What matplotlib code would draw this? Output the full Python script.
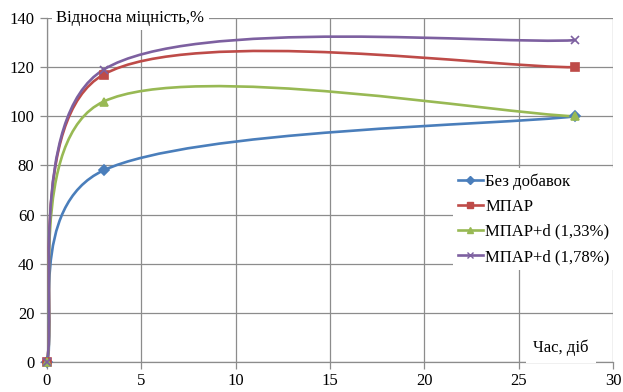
import matplotlib.pyplot as plt
from matplotlib.lines import Line2D
from matplotlib.patches import PathPatch
from matplotlib.path import Path

plt.rcParams["font.family"] = ["Liberation Serif", "DejaVu Serif"]

days = [0, 3, 28]
bez_dobavok = [0, 78, 100]
mpar = [0, 117, 120]
mpar_d133 = [0, 106, 100]
mpar_d178 = [0, 119, 131]

labels = ["Без добавок", "МПАР", "МПАР+d (1,33%)", "МПАР+d (1,78%)"]
colors = ["#4A7EBB", "#BE4B48", "#98B954", "#7D60A0"]
markers = ["D", "s", "^", "x"]
msizes = [5, 6, 6, 6]


def smooth_path(xs, ys, short_f=0.145):
    # Excel-like smoothed line: Catmull-Rom as cubic Bezier segments,
    # with a softer tangent next to a much shorter segment
    pts = list(zip(xs, ys))
    n = len(pts)
    verts = [pts[0]]
    codes = [Path.MOVETO]
    for i in range(n - 1):
        p0 = pts[max(i - 1, 0)]
        p1 = pts[i]
        p2 = pts[i + 1]
        p3 = pts[min(i + 2, n - 1)]
        f1 = 1 / 6
        f2 = 1 / 6 if i + 2 < n - 1 or i == n - 2 and i > 0 else short_f
        c1 = (p1[0] + (p2[0] - p0[0]) * f1, p1[1] + (p2[1] - p0[1]) * f1)
        c2 = (p2[0] - (p3[0] - p1[0]) * f2, p2[1] - (p3[1] - p1[1]) * f2)
        verts += [c1, c2, p2]
        codes += [Path.CURVE4] * 3
    return Path(verts, codes)


fig = plt.figure(figsize=(6.23, 3.92), dpi=100)
ax = fig.add_axes([0.0754, 0.0765, 0.9086, 0.8775])

series = [bez_dobavok, mpar, mpar_d133, mpar_d178]
handles = []
for vals, lab, col, mk, ms in zip(series, labels, colors, markers, msizes):
    ax.add_patch(PathPatch(smooth_path(days, vals), fill=False, edgecolor=col,
                           lw=1.9, zorder=3, capstyle="round", clip_on=False))
    ax.plot(days, vals, ls="none", marker=mk, ms=ms, color=col,
            mec=col, mew=1.2, zorder=4, clip_on=False)
    handles.append(Line2D([], [], color=col, lw=1.9, marker=mk, ms=ms - 1,
                          mec=col, mew=1.0))

ax.set_xlim(0, 30)
ax.set_ylim(0, 140)
ax.set_xticks(range(0, 31, 5))
ax.set_yticks(range(0, 141, 20))
ax.grid(True, color="#8c8c8c", lw=0.9)
ax.set_axisbelow(True)
for side in ["top", "right"]:
    ax.spines[side].set_visible(False)
for side in ["left", "bottom"]:
    ax.spines[side].set_color("#8c8c8c")
    ax.spines[side].set_linewidth(0.9)
ax.tick_params(axis="both", colors="#8c8c8c", labelcolor="black",
               labelsize=12, length=5, width=0.9)
ax.tick_params(axis="x", pad=3)
ax.tick_params(axis="y", pad=4)

ax.text(0.5, 140, "Відносна міцність,%", fontsize=12, va="center", ha="left",
        bbox=dict(facecolor="white", edgecolor="none", pad=3), zorder=5)
ax.text(28.7, 6, "Час, діб", fontsize=12, va="center", ha="right",
        bbox=dict(facecolor="white", edgecolor="none", pad=5), zorder=5)

leg = ax.legend(handles, labels, loc="upper left", bbox_to_anchor=(0.717, 0.564),
                frameon=True, fontsize=12, handlelength=1.5, handletextpad=0.15,
                labelspacing=0.55, borderpad=0.3, borderaxespad=0, fancybox=False)
leg.get_frame().set_edgecolor("none")
leg.get_frame().set_alpha(1)
leg.set_zorder(6)

fig.savefig("out.png", dpi=100)
